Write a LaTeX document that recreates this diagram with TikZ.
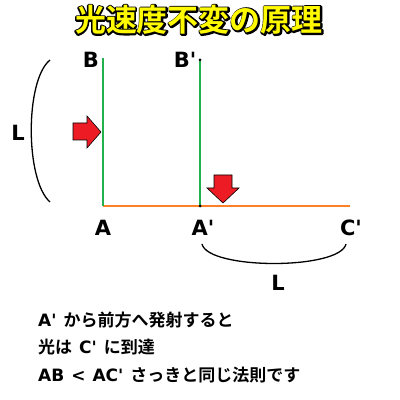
\documentclass[tikz,border=0pt]{standalone}
\usepackage{fontspec}
\setmainfont{DejaVu Sans}[Ligatures=TeXOff]
\newfontfamily\jp{Noto Sans CJK JP}[BoldFont={* Bold}]
\usepackage{tikz}
\usetikzlibrary{positioning}
\definecolor{paintgreen}{RGB}{34,177,76}
\definecolor{paintorange}{RGB}{255,127,39}
\definecolor{paintred}{RGB}{237,28,36}
\definecolor{titleyellow}{RGB}{255,250,0}
\tikzstyle{mirror} = [line width=2.9pt, paintgreen]
\tikzstyle{ground} = [line width=2.9pt, paintorange]
\tikzstyle{push} = [draw=black, line width=0.6pt, fill=paintred, line join=miter]
\tikzstyle{brace} = [line width=1.3pt, black]
\tikzstyle{letter} = [inner sep=0pt, font=\fontsize{21}{21}\selectfont\bfseries]
\tikzstyle{caption} = [inner sep=0pt, anchor=west, font=\fontsize{17}{17}\selectfont\bfseries]
\tikzstyle{heading} = [inner sep=0pt, text=titleyellow, font=\fontsize{31}{31}\selectfont\jp\bfseries]
\newcommand{\ja}[1]{{\jp\fontsize{17}{17}\selectfont #1}}
\newcommand{\gap}{\hspace{7pt}}
% black rim under the yellow letters
\newcommand{\outlined}[1]{\rlap{\color{black}\special{pdf:literal 2 Tr 3 w 1 J 1 j}#1\special{pdf:literal 0 Tr}}#1}

\begin{document}
\begin{tikzpicture}[x=1pt,y=1pt]
            \useasboundingbox (0,0) rectangle (400,400);
            \fill [white] (0,0) rectangle (400,400);

            \node (title) [heading] at (199,380) {\outlined{光速度不変の原理}};

            \coordinate (A) at (103,194);
            \coordinate (B) at (103,342);
            \coordinate (Ap) at (200,194);
            \coordinate (Bp) at (200,340);
            \coordinate (Cp) at (350,194);

            \node (labB) [letter] at (91,340) {B};
            \node (labBp) [letter] at (185,340) {B'};
            \node (labA) [letter] at (103,172) {A};
            \node (labAp) [letter] at (203,172) {A'};
            \node (labCp) [letter] at (351,172) {C'};
            \node (labL) [letter] at (18,267) {L};
            \node (labLb) [letter] at (278,117) {L};

            \draw [ground] (A) -- (Cp);
            \draw [mirror] (A) -- (B);
            \draw [mirror] (Ap) -- (Bp);
            \fill [black] (Ap) circle (1.5);
            \fill [black] (Bp) circle (1.5);

            % brackets for L
            \draw [brace] (50,340) .. controls (25,320) and (25,220) .. (50,198);
            \draw [brace] (202,156) .. controls (208,130) and (340,130) .. (346,156);

            % red arrows
            \draw [push] (73,277) -- (87,277) -- (87,284) -- (101,268) -- (87,252) -- (87,260) -- (73,260) -- cycle;
            \draw [push] (214,225) -- (214,212) -- (207,212) -- (223,197) -- (239,212) -- (232,212) -- (232,225) -- cycle;

            \node (line1) [caption] at (38,80) {A'\gap\ja{から前方へ発射すると}};
            \node (line2) [caption] at (38,53) {\ja{光は}\gap C'\gap\ja{に到達}};
            \node (line3) [caption] at (38,25) {AB\gap<\gap AC'\gap\ja{さっきと同じ法則です}};

        \end{tikzpicture}
\end{document}
